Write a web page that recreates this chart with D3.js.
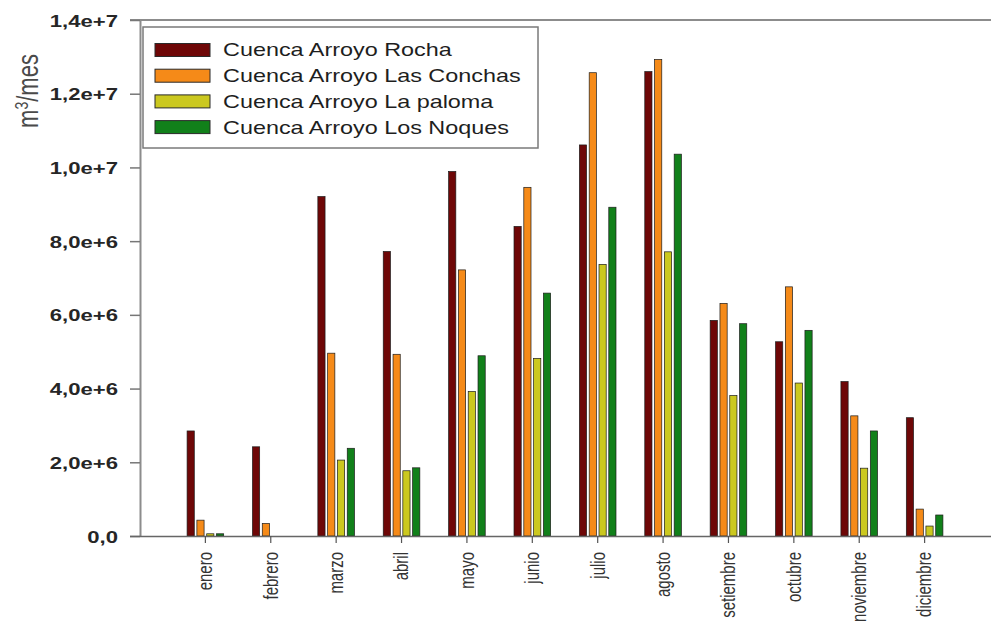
<!DOCTYPE html>
<html>
<head>
<meta charset="utf-8">
<script src="https://cdn.jsdelivr.net/npm/d3@7"></script>
<style>
  html, body { margin: 0; padding: 0; background: #fff; }
  svg { display: block; font-family: "Liberation Sans", Arial, sans-serif; }
</style>
</head>
<body>
<svg id="chart" width="991" height="625"></svg>
<script>
// Monthly runoff volume per basin (m3/mes)
const months = ["enero", "febrero", "marzo", "abril", "mayo", "junio", "julio",
                "agosto", "setiembre", "octubre", "noviembre", "diciembre"];
const seriesNames = ["Cuenca Arroyo Rocha", "Cuenca Arroyo Las Conchas",
                     "Cuenca Arroyo La paloma", "Cuenca Arroyo Los Noques"];
const rocha   = [2.85e6, 2.42e6, 9.21e6, 7.72e6, 9.89e6, 8.40e6, 10.61e6, 12.60e6, 5.85e6, 5.27e6, 4.19e6, 3.21e6];
const conchas = [4.3e5, 3.4e5, 4.96e6, 4.93e6, 7.22e6, 9.46e6, 12.57e6, 12.93e6, 6.31e6, 6.76e6, 3.26e6, 7.3e5];
const paloma  = [6e4, 0, 2.06e6, 1.77e6, 3.92e6, 4.82e6, 7.37e6, 7.71e6, 3.81e6, 4.15e6, 1.84e6, 2.7e5];
const noques  = [6e4, 0, 2.38e6, 1.85e6, 4.89e6, 6.59e6, 8.92e6, 10.36e6, 5.76e6, 5.58e6, 2.85e6, 5.7e5];
const yTickValues = [0, 2e6, 4e6, 6e6, 8e6, 1e7, 1.2e7, 1.4e7];
const yTickLabels = ["0,0", "2,0e+6", "4,0e+6", "6,0e+6", "8,0e+6", "1,0e+7", "1,2e+7", "1,4e+7"];

const colors = ["#6e0707", "#f58a18", "#cbc81f", "#11801a"];
const seriesValues = [rocha, conchas, paloma, noques];

// horizontal stretch applied to all lettering
const SX = 1.3;

const svg = d3.select("#chart");
const plotLeft = 140, plotRight = 990, plotTop = 20, plotBottom = 536;

const x = d3.scaleBand().domain(months).range([plotLeft, plotRight])
  .paddingInner(0).paddingOuter(0.5);
const groupW = 36.6;
const xs = d3.scaleBand().domain(d3.range(4)).range([-groupW / 2, groupW / 2])
  .paddingInner(0.265).paddingOuter(0);
const y = d3.scaleLinear().domain([0, 1.4e7]).range([plotBottom, plotTop]);

// top frame line
svg.append("line")
  .attr("x1", plotLeft - 10).attr("x2", plotRight + 1)
  .attr("y1", y(1.4e7)).attr("y2", y(1.4e7))
  .attr("stroke", "#8c8c8c").attr("stroke-width", 2);

// bars
const groups = svg.append("g").selectAll("g")
  .data(months)
  .join("g")
  .attr("transform", d => `translate(${x(d) + x.bandwidth() / 2},0)`);

groups.selectAll("rect")
  .data((m, i) => seriesValues.map((vals, s) => ({ s, v: vals[i] })).filter(d => d.v > 0))
  .join("rect")
  .attr("x", d => xs(d.s))
  .attr("width", xs.bandwidth())
  .attr("y", d => y(d.v))
  .attr("height", d => y(0) - y(d.v))
  .attr("fill", d => colors[d.s])
  .attr("stroke", "#1c1c1c")
  .attr("stroke-width", 0.7);

// y axis
const yAxis = svg.append("g")
  .attr("transform", `translate(${plotLeft},0)`)
  .call(d3.axisLeft(y).tickValues(yTickValues)
    .tickFormat((d, i) => yTickLabels[i]).tickSize(10).tickSizeOuter(0));
yAxis.select(".domain").attr("stroke", "#8c8c8c").attr("stroke-width", 2);
yAxis.selectAll(".tick line").attr("stroke", "#777").attr("stroke-width", 1.5);
yAxis.selectAll(".tick text")
  .attr("x", -22 / SX)
  .attr("dy", "0.36em")
  .attr("transform", `scale(${SX},1)`)
  .attr("fill", "#262626")
  .style("font-size", "17px")
  .style("font-weight", "bold")
  .style("font-family", "'Liberation Sans', Arial, sans-serif");

// x axis
const xAxis = svg.append("g")
  .attr("transform", `translate(0,${plotBottom})`)
  .call(d3.axisBottom(x).tickSize(7).tickSizeOuter(0));
xAxis.select(".domain")
  .attr("d", `M${plotLeft - 10},0.5H${plotRight + 1}`)
  .attr("stroke", "#666").attr("stroke-width", 1.5);
xAxis.selectAll(".tick line").attr("stroke", "#555").attr("stroke-width", 1.2);
xAxis.selectAll(".tick text")
  .attr("x", -16)
  .attr("y", 0)
  .attr("dy", "0.35em")
  .attr("text-anchor", "end")
  .attr("transform", `rotate(-90) scale(1,${SX})`)
  .attr("fill", "#333")
  .style("font-size", "15px")
  .style("font-family", "'Liberation Sans', Arial, sans-serif");

// y axis title
const yTitle = svg.append("text")
  .attr("transform", `translate(38,91) rotate(-90) scale(1,${SX})`)
  .attr("text-anchor", "middle")
  .attr("fill", "#4a4a4a")
  .style("font-size", "22px");
yTitle.append("tspan").text("m");
yTitle.append("tspan").attr("baseline-shift", "super").style("font-size", "14px").text("3");
yTitle.append("tspan").text("/mes");

// legend
const legend = svg.append("g");
legend.append("rect")
  .attr("x", 143).attr("y", 27).attr("width", 395).attr("height", 121)
  .attr("fill", "#fff").attr("stroke", "#7a7a7a").attr("stroke-width", 1.5);
const rows = legend.selectAll("g.row")
  .data(seriesNames)
  .join("g")
  .attr("class", "row")
  .attr("transform", (d, i) => `translate(0,${50 + i * 25.7})`);
rows.append("rect")
  .attr("x", 155).attr("y", -6.5).attr("width", 55).attr("height", 13)
  .attr("fill", (d, i) => colors[i])
  .attr("stroke", "#2a2a2a").attr("stroke-width", 1);
rows.append("text")
  .attr("transform", `translate(223,0) scale(${SX},1)`)
  .attr("dy", "0.36em")
  .attr("fill", "#1e1e1e")
  .style("font-size", "18px")
  .text(d => d);
</script>
</body>
</html>
